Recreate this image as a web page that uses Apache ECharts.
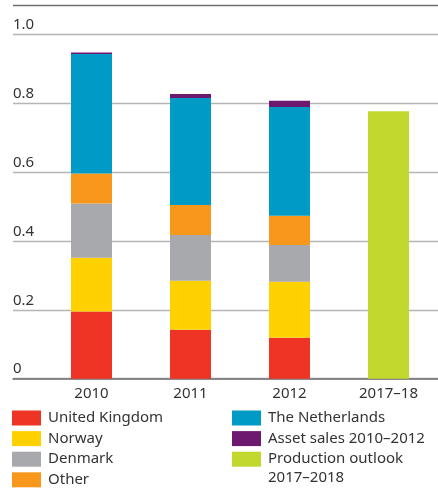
<!DOCTYPE html>
<html>
<head>
<meta charset="utf-8">
<script src="https://cdn.jsdelivr.net/npm/echarts@6/dist/echarts.min.js"></script>
<style>
  html, body { margin: 0; padding: 0; background: #fff; }
  #chart { width: 438px; height: 490px; }
</style>
</head>
<body>
<div id="chart"></div>
<script>
const categories = ['2010', '2011', '2012', '2017–18'];
const unitedKingdom = [0.195, 0.142, 0.119, null];
const norway = [0.156, 0.142, 0.162, null];
const denmark = [0.157, 0.133, 0.107, null];
const other = [0.087, 0.087, 0.085, null];
const netherlands = [0.347, 0.31, 0.315, null];
const assetSales = [0.004, 0.012, 0.018, null];
const outlook = [null, null, null, 0.776];
const yTicks = [0, 0.2, 0.4, 0.6, 0.8, 1.0];

const font = 'Noto Sans';
const plotTop = 34, plotH = 344.7;

const seriesDefs = [
    { name: 'United Kingdom', data: unitedKingdom, color: '#EE3424' },
    { name: 'Norway', data: norway, color: '#FFD100' },
    { name: 'Denmark', data: denmark, color: '#A7A9AC' },
    { name: 'Other', data: other, color: '#F7981D' },
    { name: 'The Netherlands', data: netherlands, color: '#009AC7' },
    { name: 'Asset sales 2010–2012', data: assetSales, color: '#6D1970' },
    { name: 'Production outlook 2017–2018', data: outlook, color: '#C2D82E' },
];

// legend in two columns, like the original
const legendBase = {
    orient: 'vertical', top: 410, height: 100, padding: 0,
    itemWidth: 29, itemHeight: 15, itemGap: 4.6, icon: 'rect',
    textStyle: { color: '#333', fontSize: 15, fontFamily: font, lineHeight: 16, padding: [0, 0, 0, 2] },
};

const chart = echarts.init(document.getElementById('chart'));
chart.setOption({
    animation: false,
    grid: [
        { left: 13, right: 0, top: plotTop, height: plotH },
        { left: 42, width: 407, top: plotTop, height: plotH },
    ],
    xAxis: [
        {
            gridIndex: 0, type: 'category', data: [''],
            axisLine: { show: true, lineStyle: { color: '#6d6e71', width: 1.5 } },
            axisTick: { show: false }, axisLabel: { show: false },
        },
        {
            gridIndex: 1, type: 'category', data: categories,
            axisLine: { show: false }, axisTick: { show: false },
            axisLabel: { color: '#333', fontSize: 15, fontFamily: font, margin: 8 },
        },
    ],
    yAxis: [
        {
            gridIndex: 0, type: 'value', min: yTicks[0], max: yTicks[yTicks.length - 1], interval: 0.2,
            axisLine: { show: false }, axisTick: { show: false },
            splitLine: { lineStyle: { color: '#b5b5b5', width: 1.3 } },
            axisLabel: {
                inside: true, margin: 0, verticalAlign: 'bottom', align: 'left',
                padding: [0, 0, 2, 0],
                color: '#333', fontSize: 15, fontFamily: font,
                formatter: v => (v === 0 ? '0' : v.toFixed(1)),
            },
        },
        {
            gridIndex: 1, type: 'value', min: 0, max: 1, interval: 0.2,
            show: false, splitLine: { show: false },
        },
    ],
    legend: [
        Object.assign({}, legendBase, {
            data: seriesDefs.slice(0, 4).map(s => s.name),
            left: 12,
        }),
        Object.assign({}, legendBase, {
            data: seriesDefs.slice(4).map(s => s.name),
            left: 232,
            formatter: n => n.replace(' 2017–2018', ''),
        }),
    ],
    graphic: [
        {
            type: 'line', shape: { x1: 13, y1: 5.5, x2: 438, y2: 5.5 },
            style: { stroke: '#6d6e71', lineWidth: 1.5 },
        },
        {
            type: 'text', left: 268, top: 470,
            style: { text: '2017–2018', fill: '#333', fontSize: 15, fontFamily: font },
        },
    ],
    series: seriesDefs.map(s => ({
        name: s.name, type: 'bar', stack: 'total',
        xAxisIndex: 1, yAxisIndex: 1,
        barWidth: 41, data: s.data,
        itemStyle: { color: s.color },
    })),
});
</script>
</body>
</html>
